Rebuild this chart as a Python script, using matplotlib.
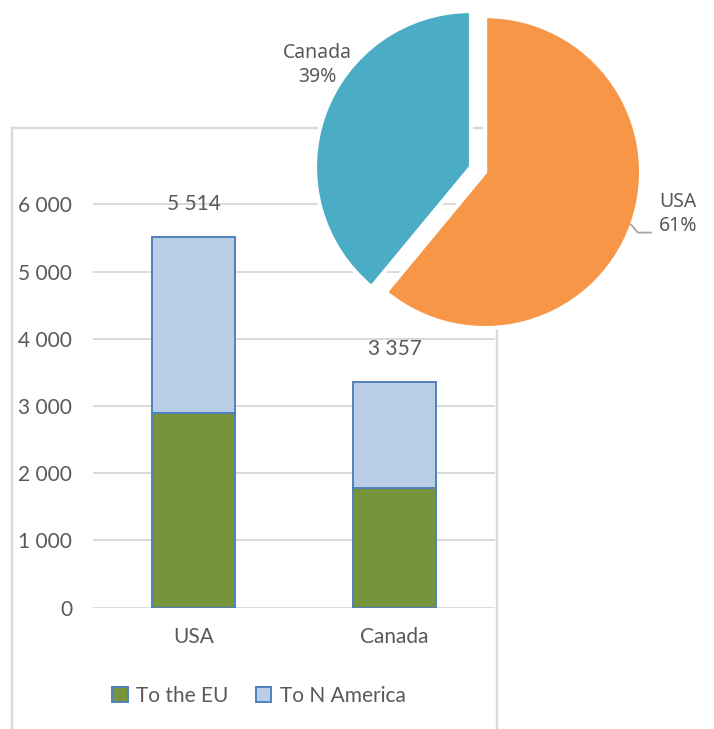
import numpy as np
import matplotlib
matplotlib.use("Agg")
import matplotlib.pyplot as plt
from matplotlib.patches import Patch, Rectangle

# ---- data ----
categories = ["USA", "Canada"]
to_eu = [2890, 1780]
to_n_america = [2624, 1577]
totals = [5514, 3357]
y_ticks = [0, 1000, 2000, 3000, 4000, 5000, 6000]
series_names = ["To the EU", "To N America"]

pie_labels = ["Canada", "USA"]
pie_shares = [39, 61]

# ---- style ----
W, H = 714, 729
FONT = "Lato"
TXT = "#595959"
GRID = "#D9D9D9"
GREEN = "#77933C"
LBLUE = "#B9CDE5"
EDGE = "#4F81BD"
PIE_COLORS = ["#4BACC6", "#F79646"]

plt.rcParams["font.family"] = [FONT, "DejaVu Sans"]

fig = plt.figure(figsize=(W / 100, H / 100), dpi=100)

def fx(px):
    return px / W

def fy(py):
    return 1 - py / H

# outer chart border (bar chart area)
fig.patches.append(Rectangle((fx(12), fy(760)), fx(497) - fx(12), fy(128) - fy(760),
                             transform=fig.transFigure, fill=False, edgecolor=GRID,
                             linewidth=1.7, zorder=-5))

# ---- bar chart ----
y0_px, per1000 = 607.5, 67.2
ymax = 7000
ax = fig.add_axes([fx(93), fy(y0_px), fx(495) - fx(93), (ymax / 1000 * per1000) / H])
x = np.arange(len(categories))
bw = 0.41
ax.bar(x, to_eu, bw, color=GREEN, edgecolor=EDGE, linewidth=1.4, zorder=3)
ax.bar(x, to_n_america, bw, bottom=to_eu, color=LBLUE, edgecolor=EDGE, linewidth=1.4, zorder=3)
ax.set_xlim(-0.5, 1.5)
ax.set_ylim(0, ymax)
ax.set_yticks(y_ticks)
ax.set_yticklabels([f"{v:,}".replace(",", " ") for v in y_ticks])
ax.set_xticks(x)
ax.set_xticklabels(categories)
ax.tick_params(axis="both", length=0, labelsize=15, colors=TXT)
ax.tick_params(axis="y", pad=15)
ax.tick_params(axis="x", pad=14)
ax.grid(axis="y", color=GRID, linewidth=1.4, zorder=0)
for s in ax.spines.values():
    s.set_visible(False)
ax.set_facecolor("none")
for xi, t in zip(x, totals):
    ax.annotate(f"{t:,}".replace(",", " "), (xi, t), xytext=(0, 24), textcoords="offset points",
                ha="center", va="center", fontsize=15, color=TXT)

handles = [Patch(facecolor=GREEN, edgecolor=EDGE, linewidth=1.4),
           Patch(facecolor=LBLUE, edgecolor=EDGE, linewidth=1.4)]
fig.legend(handles, series_names, loc="center", bbox_to_anchor=(fx(259), fy(696)), ncol=2,
           frameon=False, fontsize=15, labelcolor=TXT, handlelength=0.75, handleheight=0.75,
           handletextpad=0.4, columnspacing=1.3)

# ---- pie chart ----
axp = fig.add_axes([0, 0, 1, 1], zorder=5)
axp.patch.set_visible(False)
R = 156
center = (471, H - 167)
explode_px = 15
wedges, _ = axp.pie(pie_shares, colors=PIE_COLORS, startangle=90, counterclock=True,
                    radius=R, center=center, explode=[0, explode_px], frame=True,
                    wedgeprops=dict(edgecolor="white", linewidth=3))
axp.set_xlim(0, W)
axp.set_ylim(0, H)
axp.axis("off")
axp.set_aspect("auto")

# labels
axp.text(317, H - 65, f"{pie_labels[0]}\n{pie_shares[0]}%", ha="center", va="center",
         fontsize=14, color=TXT, family=["Noto Sans", "DejaVu Sans"], linespacing=1.3)
wu = wedges[1]
mid = np.deg2rad((wu.theta1 + wu.theta2) / 2)
cx, cy = wu.center
ex, ey = cx + (R - 1) * np.cos(mid), cy + (R - 1) * np.sin(mid)
axp.plot([ex, ex + 7, ex + 20], [ey, ey - 8, ey - 8], color="#A6A6A6", linewidth=1.3)
axp.text(678, H - 214, f"{pie_labels[1]}\n{pie_shares[1]}%", ha="center", va="center",
         fontsize=14, color=TXT, family=["Noto Sans", "DejaVu Sans"], linespacing=1.3)

fig.savefig("out.png", dpi=100)
